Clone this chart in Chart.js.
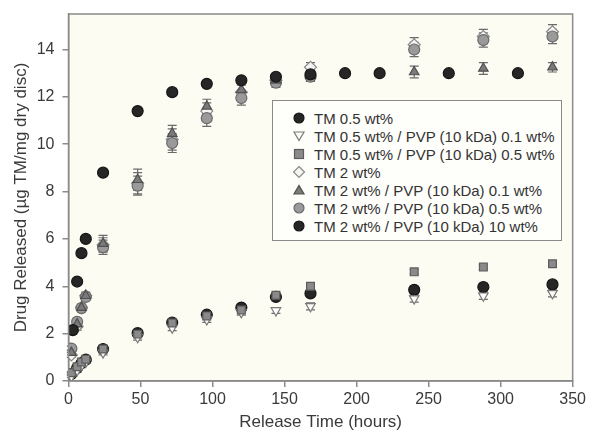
<!DOCTYPE html>
<html>
<head>
<meta charset="utf-8">
<script src="https://cdn.jsdelivr.net/npm/chart.js@4.4.1/dist/chart.umd.min.js"></script>
<style>
  html, body { margin: 0; padding: 0; background: #ffffff; }
  #wrap { position: relative; width: 589px; height: 433px; }
  #legend {
    position: absolute; left: 272px; top: 100px; width: 290px; height: 141px;
    border: 1.5px solid #8a8a8a; background: #fefefb; box-sizing: border-box;
    padding-top: 8px; font-family: 'Liberation Sans', Arial, sans-serif; font-size: 15px; color: #333;
  }
  .row { height: 18px; display: flex; align-items: center; }
  .row svg { margin-left: 19px; margin-right: 8px; }
</style>
</head>
<body>
<div id="wrap">
  <canvas id="c" width="589" height="433"></canvas>
  <div id="legend"></div>
</div>
<script>
// ---- data ----
const hoursA = [2, 6, 9, 12, 24, 48, 72, 96, 120, 144, 168, 240, 288, 336];
const hoursB = [3, 6, 9, 12, 24, 48, 72, 96, 120, 144, 168, 192, 216, 264, 312];

const seriesLabels = [
  'TM 0.5 wt%',
  'TM 0.5 wt% / PVP (10 kDa) 0.1 wt%',
  'TM 0.5 wt% / PVP (10 kDa) 0.5 wt%',
  'TM 2 wt%',
  'TM 2 wt% / PVP (10 kDa) 0.1 wt%',
  'TM 2 wt% / PVP (10 kDa) 0.5 wt%',
  'TM 2 wt% / PVP (10 kDa) 10 wt%'
];

const tm05      = [0.30, 0.55, 0.75, 0.90, 1.35, 2.02, 2.47, 2.80, 3.10, 3.55, 3.70, 3.85, 3.97, 4.08];
const tm05pvp01 = [0.20, 0.45, 0.65, 0.80, 1.20, 1.85, 2.25, 2.60, 2.90, 2.98, 3.15, 3.48, 3.60, 3.70];
const tm05pvp05 = [0.35, 0.60, 0.80, 0.92, 1.35, 1.98, 2.45, 2.75, 3.00, 3.62, 4.00, 4.61, 4.81, 4.95];
const tm2       = [1.10, 2.30, 3.10, 3.60, 5.75, 8.35, 10.20, 11.40, 12.20, 12.70, 13.25, 14.20, 14.55, 14.75];
const tm2pvp01  = [1.20, 2.40, 3.10, 3.60, 5.80, 8.50, 10.45, 11.60, 12.30, 12.70, 12.90, 13.05, 13.20, 13.25];
const tm2pvp05  = [1.37, 2.50, 3.08, 3.55, 5.65, 8.25, 10.05, 11.10, 11.95, 12.60, 12.85, 14.00, 14.40, 14.55];
const tm2pvp10  = [2.15, 4.20, 5.40, 6.00, 8.80, 11.40, 12.20, 12.55, 12.70, 12.85, 12.95, 13.00, 13.00, 13.00, 13.00];

const err05      = [0.05, 0.05, 0.05, 0.05, 0.10, 0.10, 0.10, 0.10, 0.10, 0.10, 0.10, 0.15, 0.15, 0.15];
const err05p01   = [0.05, 0.05, 0.05, 0.05, 0.10, 0.12, 0.12, 0.12, 0.12, 0.12, 0.15, 0.15, 0.15, 0.15];
const err05p05   = [0.05, 0.05, 0.05, 0.05, 0.10, 0.10, 0.10, 0.10, 0.10, 0.10, 0.10, 0.10, 0.10, 0.10];
const err2       = [0.10, 0.15, 0.15, 0.15, 0.30, 0.45, 0.45, 0.35, 0.30, 0.20, 0.20, 0.30, 0.30, 0.30];
const err2p01    = [0.10, 0.10, 0.10, 0.10, 0.35, 0.45, 0.35, 0.30, 0.30, 0.20, 0.25, 0.25, 0.25, 0.20];
const err2p05    = [0.10, 0.15, 0.15, 0.15, 0.30, 0.40, 0.40, 0.35, 0.30, 0.20, 0.20, 0.30, 0.30, 0.30];
const err2p10    = [0.05, 0.05, 0.05, 0.05, 0.10, 0.10, 0.10, 0.10, 0.10, 0.10, 0.10, 0.10, 0.10, 0.10, 0.10];

const xTicks = [0, 50, 100, 150, 200, 250, 300, 350];
const yTicks = [0, 2, 4, 6, 8, 10, 12, 14];

// ---- build datasets ----
function pts(xs, ys, es) { return xs.map((x, i) => ({ x: x, y: ys[i], e: es[i] })); }

const styles = [
  { pointStyle: 'circle',   rot: 0,   fill: '#262626', stroke: '#151515', r: 5.5 },
  { pointStyle: 'triangle', rot: 180, fill: '#fbfbf8', stroke: '#7a7a7a', r: 5.5 },
  { pointStyle: 'rect',     rot: 0,   fill: '#8a8a8a', stroke: '#5c5c5c', r: 5.5 },
  { pointStyle: 'rectRot',  rot: 0,   fill: '#f4f4f2', stroke: '#8a8a8a', r: 6 },
  { pointStyle: 'triangle', rot: 0,   fill: '#7a7a7a', stroke: '#505050', r: 5.5 },
  { pointStyle: 'circle',   rot: 0,   fill: '#9a9a9a', stroke: '#6a6a6a', r: 5.5 },
  { pointStyle: 'circle',   rot: 0,   fill: '#262626', stroke: '#151515', r: 5.5 }
];

const dataSets = [
  pts(hoursA, tm05, err05),
  pts(hoursA, tm05pvp01, err05p01),
  pts(hoursA, tm05pvp05, err05p05),
  pts(hoursA, tm2, err2),
  pts(hoursA, tm2pvp01, err2p01),
  pts(hoursA, tm2pvp05, err2p05),
  pts(hoursB, tm2pvp10, err2p10)
];

const datasets = dataSets.map((d, i) => ({
  label: seriesLabels[i],
  data: d,
  showLine: false,
  pointStyle: styles[i].pointStyle,
  pointRotation: styles[i].rot,
  pointRadius: styles[i].r,
  pointHoverRadius: styles[i].r,
  pointBackgroundColor: styles[i].fill,
  pointBorderColor: styles[i].stroke,
  pointBorderWidth: 1.2,
  order: [6, 5, 4, 3, 1, 2, 0][i]
}));

const areaPlugin = {
  id: 'area',
  beforeDraw(chart) {
    const a = chart.chartArea, ctx = chart.ctx;
    ctx.save();
    ctx.fillStyle = '#fcfcf3';
    ctx.fillRect(a.left, a.top, a.right - a.left, a.bottom - a.top);
    ctx.restore();
  },
  afterDraw(chart) {
    const a = chart.chartArea, ctx = chart.ctx;
    ctx.save();
    ctx.strokeStyle = '#8a8a8a';
    ctx.lineWidth = 1.5;
    ctx.strokeRect(a.left, a.top, a.right - a.left, a.bottom - a.top);
    ctx.restore();
  }
};

const errPlugin = {
  id: 'errbars',
  beforeDatasetsDraw(chart) {
    const ctx = chart.ctx, xs = chart.scales.x, ys = chart.scales.y;
    ctx.save();
    ctx.strokeStyle = '#6a6a6a';
    ctx.lineWidth = 1.2;
    chart.data.datasets.forEach(ds => {
      ds.data.forEach(p => {
        const px = xs.getPixelForValue(p.x);
        const t = ys.getPixelForValue(p.y + p.e);
        const b = ys.getPixelForValue(p.y - p.e);
        ctx.beginPath();
        ctx.moveTo(px, t); ctx.lineTo(px, b);
        ctx.moveTo(px - 4.5, t); ctx.lineTo(px + 4.5, t);
        ctx.moveTo(px - 4.5, b); ctx.lineTo(px + 4.5, b);
        ctx.stroke();
      });
    });
    ctx.restore();
  }
};

const fontFam = "'Liberation Sans', Arial, sans-serif";

new Chart(document.getElementById('c'), {
  type: 'scatter',
  data: { datasets: datasets },
  options: {
    responsive: false,
    animation: false,
    layout: { padding: { top: 14, right: 15, left: 11, bottom: 0 } },
    plugins: { legend: { display: false }, tooltip: { enabled: false } },
    scales: {
      x: {
        type: 'linear', min: 0, max: 350,
        afterBuildTicks(s) { s.ticks = xTicks.map(v => ({ value: v })); },
        afterFit(s) { s.height = 52; },
        grid: { display: true, drawOnChartArea: false, drawTicks: true, tickLength: 6, color: '#8a8a8a', lineWidth: 1.5 },
        border: { display: true, color: '#8a8a8a', width: 1.5 },
        ticks: { color: '#3a3a3a', font: { family: fontFam, size: 16 }, padding: 3, maxRotation: 0 },
        title: { display: true, text: 'Release Time (hours)', color: '#3a3a3a', font: { family: fontFam, size: 17 }, padding: { top: 1, bottom: 0 } }
      },
      y: {
        type: 'linear', min: 0, max: 15.5,
        afterBuildTicks(s) { s.ticks = yTicks.map(v => ({ value: v })); },
        afterFit(s) { s.width = 57.5; },
        grid: { display: true, drawOnChartArea: false, drawTicks: true, tickLength: 6, color: '#8a8a8a', lineWidth: 1.5 },
        border: { display: true, color: '#8a8a8a', width: 1.5 },
        ticks: { color: '#3a3a3a', font: { family: fontFam, size: 16, lineHeight: 0.6 }, padding: 8 },
        title: { display: true, text: 'Drug Released (\u00b5g TM/mg dry disc)', color: '#3a3a3a', font: { family: fontFam, size: 17 }, padding: { top: 0, bottom: 2 } }
      }
    }
  },
  plugins: [areaPlugin, errPlugin]
});

// ---- HTML legend (real text) ----
function markerSVG(st) {
  const s = 14, c = 7;
  let shape = '';
  const attrs = `fill="${st.fill}" stroke="${st.stroke}" stroke-width="1.2"`;
  if (st.pointStyle === 'circle') shape = `<circle cx="${c}" cy="${c}" r="5" ${attrs}/>`;
  else if (st.pointStyle === 'rect') shape = `<rect x="2.5" y="2.5" width="9" height="9" ${attrs}/>`;
  else if (st.pointStyle === 'rectRot') shape = `<polygon points="7,1.5 12.5,7 7,12.5 1.5,7" ${attrs}/>`;
  else if (st.pointStyle === 'triangle' && st.rot === 180) shape = `<polygon points="2,3 12,3 7,11.5" ${attrs}/>`;
  else shape = `<polygon points="2,11 12,11 7,2.5" ${attrs}/>`;
  return `<svg width="${s}" height="${s}" viewBox="0 0 ${s} ${s}">${shape}</svg>`;
}
const leg = document.getElementById('legend');
seriesLabels.forEach((lab, i) => {
  const row = document.createElement('div');
  row.className = 'row';
  row.innerHTML = markerSVG(styles[i]) + '<span></span>';
  row.querySelector('span').textContent = lab;
  leg.appendChild(row);
});
</script>
</body>
</html>
